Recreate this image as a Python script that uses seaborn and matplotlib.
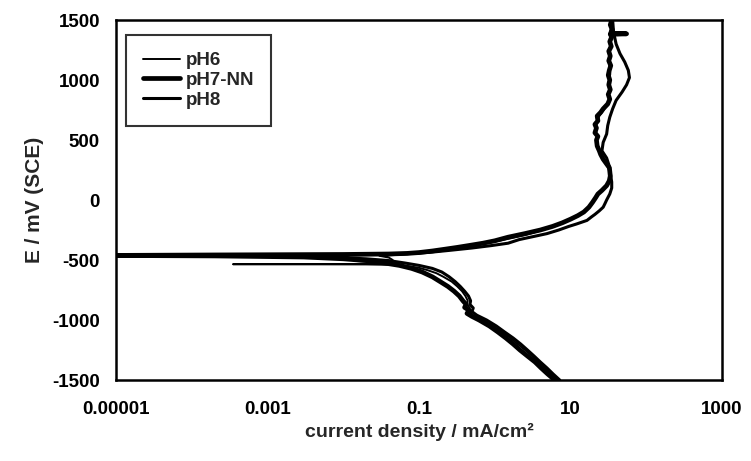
import numpy as np
import pandas as pd
import matplotlib
matplotlib.use("Agg")
import matplotlib.pyplot as plt
import seaborn as sns

# ---------------- data (E in mV vs SCE, i in mA/cm2) ----------------
# pH6 (thin line)
E_pH6 = [-1500, -1450, -1400, -1350, -1300, -1250, -1200, -1150, -1100, -1050,
         -1000, -960, -930, -900, -870, -840, -800, -760, -720, -680,
         -640, -610, -585, -565, -550, -541, -537, -535, -533, -520,
         -500, -480, -465, -458, -452, -445, -430, -410, -390, -370,
         -350, -320, -290, -260, -230, -200, -170, -140, -100, -60,
         -20, 20, 60, 100, 140, 180, 220, 260, 300, 340,
         380, 420, 460, 500, 550, 600, 650, 700, 750, 800,
         850, 900, 950, 1000, 1050, 1100, 1150, 1200, 1250, 1300,
         1350, 1400, 1450, 1500]
i_pH6 = [6.8, 5.5, 4.6, 3.8, 3.1, 2.5, 2.0, 1.6, 1.25, 0.95,
         0.70, 0.52, 0.46, 0.47, 0.43, 0.44, 0.41, 0.37, 0.32, 0.27,
         0.21, 0.17, 0.13, 0.10, 0.07, 0.045, 0.02, 0.00035, 0.015, 0.04,
         0.045, 0.04, 0.03, 0.05, 0.07, 0.10, 0.16, 0.26, 0.40, 0.60,
         0.95, 1.6, 2.6, 3.8, 5.2, 7.0, 9.5, 12.0, 15.0, 17.5,
         19.5, 21.5, 24.0, 28.0, 31.0, 32.5, 33.0, 32.0, 29.5, 27.0,
         25.0, 24.0, 23.0, 22.5, 22.0, 21.5, 22.5, 24.0, 27.5, 31.0,
         32.5, 32.0, 33.0, 32.5, 33.5, 33.0, 32.0, 33.5, 32.5, 33.5,
         34.0, 33.0, 35.0, 34.5]

# pH7-NN (thick line)
E_pH7 = [-1500, -1450, -1400, -1350, -1300, -1250, -1200, -1150, -1100, -1050,
         -1000, -970, -945, -920, -895, -870, -840, -800, -760, -720,
         -680, -640, -600, -570, -545, -525, -505, -490, -475, -466,
         -462, -458, -454, -450, -445, -438, -425, -410, -395, -380,
         -360, -340, -310, -280, -250, -220, -190, -160, -130, -100,
         -60, -20, 20, 50, 80, 120, 160, 200, 240, 270,
         300, 340, 380, 410, 450, 500, 530, 560, 600, 630,
         660, 700, 730, 760, 800, 840, 880, 920, 960, 1000,
         1040, 1080, 1120, 1160, 1200, 1240, 1280, 1320, 1360, 1380,
         1385, 1390, 1420, 1460, 1500]
i_pH7 = [6.2, 5.0, 4.1, 3.4, 2.7, 2.15, 1.75, 1.4, 1.1, 0.85,
         0.62, 0.50, 0.43, 0.46, 0.40, 0.42, 0.38, 0.34, 0.29, 0.24,
         0.19, 0.15, 0.11, 0.08, 0.055, 0.035, 0.02, 0.01, 0.003, 0.0002,
         0.000008, 0.0002, 0.01, 0.04, 0.07, 0.10, 0.15, 0.22, 0.32, 0.45,
         0.70, 1.0, 1.5, 2.5, 4.0, 5.8, 7.8, 10.0, 12.5, 15.0,
         17.5, 19.5, 21.5, 23.0, 26.0, 30.0, 32.5, 33.5, 33.0, 32.5,
         30.0, 27.0, 25.0, 24.0, 22.5, 22.0, 23.0, 21.0, 22.0, 21.0,
         23.0, 22.5, 25.0, 27.0, 31.0, 33.0, 31.5, 33.5, 32.0, 33.0,
         31.5, 32.5, 34.0, 32.0, 33.5, 32.0, 34.5, 33.0, 35.0, 33.5,
         55.0, 34.0, 35.5, 33.5, 35.0]

# pH8 (medium line)
E_pH8 = [-1500, -1450, -1400, -1350, -1300, -1250, -1200, -1150, -1100, -1050,
         -1000, -960, -930, -900, -870, -840, -800, -760, -720, -680,
         -640, -600, -570, -545, -525, -505, -490, -476, -468, -463,
         -459, -455, -450, -444, -436, -420, -400, -380, -360, -330,
         -300, -280, -250, -220, -200, -170, -140, -120, -90, -60,
         -30, 0, 50, 100, 150, 200, 270, 350, 410, 480,
         550, 620, 690, 760, 830, 900, 960, 1020, 1080, 1150,
         1220, 1300, 1400, 1500]
i_pH8 = [7.2, 5.9, 4.9, 4.0, 3.3, 2.7, 2.2, 1.75, 1.35, 1.05,
         0.78, 0.58, 0.50, 0.52, 0.47, 0.48, 0.45, 0.40, 0.35, 0.30,
         0.25, 0.20, 0.15, 0.10, 0.065, 0.04, 0.02, 0.006, 0.0005, 0.000008,
         0.0005, 0.015, 0.05, 0.09, 0.14, 0.25, 0.50, 0.90, 1.5, 2.1,
         3.5, 4.9, 7.0, 9.5, 12.0, 16.5, 19.0, 21.0, 24.0, 27.0,
         28.5, 30.0, 33.0, 35.0, 35.0, 34.0, 33.0, 30.0, 26.0, 27.0,
         30.0, 31.0, 33.0, 36.0, 40.0, 48.0, 55.0, 60.0, 58.0, 52.0,
         45.0, 40.0, 37.0, 36.0]

series = [("pH6", E_pH6, i_pH6, 1.4),
          ("pH7-NN", E_pH7, i_pH7, 3.4),
          ("pH8", E_pH8, i_pH8, 2.2)]

x_ticks = [1e-5, 1e-3, 1e-1, 1e1, 1e3]
x_ticklabels = ["0.00001", "0.001", "0.1", "10", "1000"]
y_ticks = [-1500, -1000, -500, 0, 500, 1000, 1500]

# ---------------- plot ----------------
sns.set_theme(style="white")
plt.rcParams['font.family'] = ['Liberation Sans', 'DejaVu Sans']

fig = plt.figure(figsize=(7.51, 4.61), dpi=100)
ax = fig.add_axes([116 / 751, 1 - 380 / 461, 606 / 751, 360 / 461])

for name, E, cur, lw in series:
    df = pd.DataFrame({"i": cur, "E": E})
    sns.lineplot(data=df, x="i", y="E", sort=False, estimator=None,
                 color="black", linewidth=lw, label=name, ax=ax)

ax.set_xscale("log")
ax.set_xlim(1e-5, 1e3)
ax.set_ylim(-1500, 1500)
ax.set_xticks(x_ticks)
ax.set_xticklabels(x_ticklabels)
ax.xaxis.set_minor_locator(matplotlib.ticker.NullLocator())
ax.set_yticks(y_ticks)
ax.set_yticklabels([str(v) for v in y_ticks])

for lab in ax.get_xticklabels() + ax.get_yticklabels():
    lab.set_fontweight("bold")
    lab.set_fontsize(13.5)

ax.tick_params(axis="x", direction="out", length=5, width=1.4, colors="black", pad=10)
ax.tick_params(axis="y", direction="inout", length=7, width=1.4, colors="black", pad=8)

for sp in ax.spines.values():
    sp.set_color("black")
    sp.set_linewidth(1.8)
    sp.set_visible(True)

ax.set_xlabel("current density / mA/cm²", fontsize=14, fontweight="bold", labelpad=4)
ax.set_ylabel("E / mV (SCE)", fontsize=15, fontweight="bold", labelpad=6)

leg = ax.legend(loc="upper left", bbox_to_anchor=(0.0165, 0.958), frameon=True,
                fancybox=False, edgecolor="black", handlelength=2.0,
                handletextpad=0.27, borderpad=0.9, labelspacing=0.15,
                borderaxespad=0.0,
                prop={"weight": "bold", "size": 13.5})
leg.get_frame().set_linewidth(1.5)

fig.savefig("out.png", dpi=100, facecolor="white")
